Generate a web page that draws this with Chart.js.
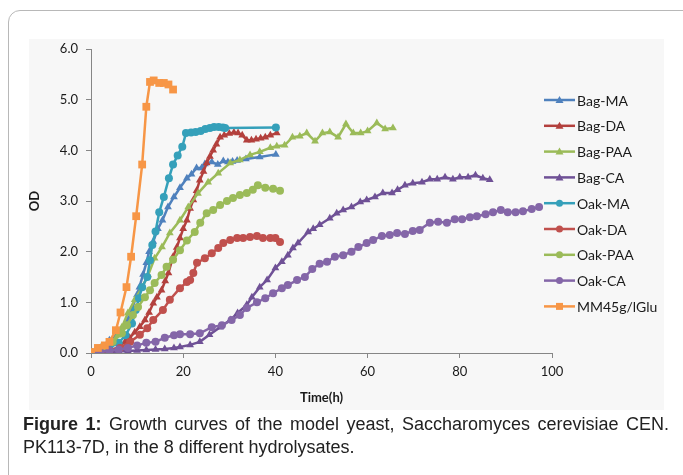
<!DOCTYPE html>
<html>
<head>
<meta charset="utf-8">
<script src="https://cdn.jsdelivr.net/npm/chart.js@4/dist/chart.umd.min.js"></script>
<style>
  body { margin: 0; background: #fff; width: 683px; height: 475px; overflow: hidden; position: relative; }
  #frame { position: absolute; left: 8px; top: 10px; width: 720px; height: 520px; border: 1px solid #b8b8b8; border-radius: 12px; }
  #panel { position: absolute; left: 29px; top: 39px; width: 635px; height: 371px; background: #f7f7f7; }
  #growth { position: absolute; left: 0; top: 0; }
  #caption { position: absolute; left: 23px; top: 413px; width: 646px; text-align: justify; font-family: "Liberation Sans", Arial, sans-serif; font-size: 18px; line-height: 23px; color: #222; }
</style>
</head>
<body>
<div id="frame"></div>
<div id="panel"></div>
<canvas id="growth" width="683" height="475"></canvas>
<div id="caption"><b>Figure 1:</b> Growth curves of the model yeast, Saccharomyces cerevisiae CEN. PK113-7D, in the 8 different hydrolysates.</div>
<script>
// sampling times (h) and OD readings per hydrolysate
var bagMaTime = [0,2,4,6,8,9,10,10.5,11.3,12,12.6,13.5,14.5,15.5,16.7,18,19.3,20.8,21.8,22.9,24,24.7,26.2,27.5,28.7,29.7,30.7,31.7,33.6,36.6,40.1];
var bagMaOd = [0.02,0.1,0.25,0.4,0.65,0.9,1.15,1.3,1.55,1.78,2.0,2.2,2.45,2.62,2.88,3.08,3.26,3.45,3.53,3.65,3.65,3.73,3.77,3.72,3.79,3.77,3.78,3.8,3.83,3.87,3.92];

var bagDaTime = [0,2,4.5,6,7.4,8.4,9.5,10.6,11.7,12.6,13.5,14.3,15.3,16.1,16.8,17.8,18.6,19.3,20,20.8,21.5,22.2,22.9,23.6,24.4,25.1,25.8,26.5,27.2,28,28.9,30,31,31.9,32.8,33.8,34.8,35.8,36.8,37.8,38.9,40.3];
var bagDaOd = [0,0.02,0.06,0.12,0.22,0.3,0.41,0.52,0.65,0.8,0.98,1.1,1.24,1.42,1.58,1.9,2.08,2.27,2.45,2.62,2.85,3.02,3.2,3.41,3.58,3.75,3.88,4.0,4.12,4.26,4.3,4.33,4.35,4.34,4.3,4.2,4.2,4.22,4.24,4.26,4.3,4.34];

var bagPaaTime = [0,2,3.5,4.7,5.8,6.7,8,9.5,11.1,12.4,13.8,15.4,17.1,19.3,21.1,23.2,25.4,27.6,30.2,32.3,34.5,36.6,38.9,40.3,42,43.7,45.3,46.8,48.6,50.2,51.8,53.6,55.3,56.9,58.5,60,62,63.8,65.5];
var bagPaaOd = [0,0.04,0.1,0.22,0.35,0.51,0.79,1.05,1.3,1.54,1.87,2.09,2.37,2.62,2.88,3.15,3.37,3.55,3.75,3.81,3.91,3.97,4.05,4.08,4.1,4.26,4.28,4.34,4.18,4.34,4.36,4.26,4.52,4.34,4.34,4.38,4.54,4.42,4.44];

var bagCaTime = [0,2,4,6,8,10,12,14,16,18,19.3,21.5,23.6,25.7,28,30.2,31.8,33.8,34.9,36.6,38.2,40,41.4,42.7,43.8,44.9,47.1,48.2,49.6,51.8,53.3,54.7,56.5,58.4,59.8,61.6,63.3,65.3,66.5,68.1,69.8,71.8,73.5,75.1,76.8,78.5,80,81.8,83.4,85,86.5];
var bagCaOd = [0,0,0.02,0.03,0.04,0.05,0.06,0.07,0.08,0.1,0.12,0.16,0.22,0.36,0.51,0.65,0.79,0.95,1.1,1.3,1.44,1.68,1.8,1.93,2.07,2.17,2.39,2.45,2.53,2.66,2.76,2.82,2.88,2.98,3.02,3.08,3.16,3.16,3.22,3.31,3.35,3.37,3.43,3.43,3.47,3.43,3.47,3.47,3.51,3.45,3.42];

var oakMaTime = [0,2,4,6,7.5,8.9,9.7,10.4,11.1,12.2,12.8,13.3,14,14.8,15.8,16.9,17.8,18.8,19.8,20.6,21.7,22.7,23.8,24.8,25.8,26.7,27.7,28.6,29.1,40.1];
var oakMaOd = [0.02,0.05,0.1,0.2,0.35,0.58,0.85,1.08,1.3,1.5,1.83,2.13,2.4,2.78,3.08,3.45,3.72,3.9,4.07,4.34,4.35,4.36,4.38,4.42,4.44,4.46,4.46,4.45,4.44,4.45];

var oakDaTime = [0,2,4,6.3,8.5,10.6,12.2,13.5,15.6,17.1,19.3,20.8,21.5,22.2,23,24.7,26.2,27.6,28.7,30.2,31.7,33,34.5,36,37.3,38.9,40,41];
var oakDaOd = [0,0.02,0.05,0.1,0.22,0.36,0.49,0.65,0.85,1.05,1.28,1.4,1.44,1.58,1.78,1.87,1.97,2.07,2.17,2.23,2.27,2.27,2.29,2.31,2.27,2.27,2.27,2.19];

var oakPaaTime = [0,2.6,4.7,6.7,7.8,9.1,10.2,11.7,12.8,13.8,15.3,16.4,17.8,19.3,20.8,22.5,23.7,25.1,26.5,28,29.5,30.8,32.3,33.8,35.1,36.2,37.8,39.5,41];
var oakPaaOd = [0,0.12,0.22,0.39,0.55,0.75,0.91,1.1,1.24,1.38,1.54,1.7,1.84,2.03,2.22,2.39,2.57,2.76,2.82,2.92,3.0,3.06,3.12,3.16,3.22,3.31,3.26,3.24,3.2];

var oakCaTime = [0,2,4,6,8,10,12,14,16,18,19.3,21.5,23.6,26.2,28.4,30.5,32.3,33.8,36,37.8,39.5,41.4,42.7,44.7,46.4,48,49.6,51.2,52.9,54.7,56.5,58,59.8,61.2,63.1,64.8,66.4,68.1,69.8,71.3,73.5,75.3,77.2,78.9,80.5,82.2,83.7,85.6,87.2,88.9,90.4,92.1,93.7,95.6,97.2];
var oakCaOd = [0,0.02,0.05,0.07,0.1,0.15,0.2,0.22,0.3,0.35,0.37,0.37,0.39,0.51,0.55,0.65,0.75,0.89,1.0,1.08,1.18,1.28,1.34,1.44,1.5,1.66,1.76,1.8,1.9,1.93,2.0,2.09,2.17,2.23,2.31,2.33,2.37,2.35,2.41,2.43,2.57,2.59,2.57,2.64,2.64,2.68,2.7,2.74,2.78,2.82,2.78,2.78,2.8,2.84,2.88];

var mmTime = [0,1.5,3,4,5.4,6.4,7.7,8.7,9.8,11.1,12,12.8,13.6,14.8,15.8,16.8,17.8];
var mmOd = [0.02,0.1,0.15,0.22,0.45,0.8,1.3,1.9,2.7,3.72,4.86,5.35,5.38,5.33,5.33,5.3,5.2];

var xTicks = [0, 20, 40, 60, 80, 100];
var yTicks = [0, 1, 2, 3, 4, 5, 6];

function pts(t, v) {
    var out = [];
    for (var i = 0; i < t.length; i++) out.push({ x: t[i], y: v[i] });
    return out;
}

function series(label, t, v, color, marker, radius) {
    return {
        label: label,
        data: pts(t, v),
        borderColor: color,
        backgroundColor: color,
        borderWidth: 2.5,
        pointStyle: marker,
        pointRadius: radius,
        pointBorderWidth: 0,
        pointBackgroundColor: color,
        tension: 0
    };
}

var datasets = [
    series('Bag-MA', bagMaTime, bagMaOd, '#4f81bd', 'triangle', 4.5),
    series('Bag-DA', bagDaTime, bagDaOd, '#b3403d', 'triangle', 4.5),
    series('Bag-PAA', bagPaaTime, bagPaaOd, '#9bbb59', 'triangle', 4.5),
    series('Bag-CA', bagCaTime, bagCaOd, '#6f5196', 'triangle', 4.5),
    series('Oak-MA', oakMaTime, oakMaOd, '#35a0ba', 'circle', 4),
    series('Oak-DA', oakDaTime, oakDaOd, '#c0504d', 'circle', 4),
    series('Oak-PAA', oakPaaTime, oakPaaOd, '#9bbb59', 'circle', 4),
    series('Oak-CA', oakCaTime, oakCaOd, '#8466a8', 'circle', 4),
    series('MM45g/lGlu', mmTime, mmOd, '#f79646', 'rect', 5.5)
];
// later series on top, like the spreadsheet
datasets.forEach(function (d, i) { d.order = -i; });

// legend: line with marker, one row per series
var sideLegend = {
    id: 'sideLegend',
    afterDraw: function (chart) {
        var ctx = chart.ctx;
        chart.data.datasets.forEach(function (d, i) {
            var y = 100 + 25.8 * i;
            ctx.save();
            ctx.strokeStyle = d.borderColor;
            ctx.lineWidth = 2.5;
            ctx.beginPath();
            ctx.moveTo(544, y);
            ctx.lineTo(575, y);
            ctx.stroke();
            ctx.fillStyle = d.borderColor;
            ctx.beginPath();
            if (d.pointStyle === 'triangle') {
                ctx.moveTo(559.5, y - 4);
                ctx.lineTo(563.5, y + 3);
                ctx.lineTo(555.5, y + 3);
                ctx.closePath();
            } else if (d.pointStyle === 'rect') {
                ctx.rect(556, y - 3.5, 7, 7);
            } else {
                ctx.arc(559.5, y, 3.5, 0, Math.PI * 2);
            }
            ctx.fill();
            ctx.fillStyle = '#1a1a1a';
            ctx.font = '14px Lato';
            ctx.textBaseline = 'middle';
            ctx.fillText(d.label, 577, y + 1);
            ctx.restore();
        });
    }
};

var axisColor = '#868686';

new Chart(document.getElementById('growth'), {
    type: 'line',
    data: { datasets: datasets },
    options: {
        responsive: false,
        animation: false,
        events: [],
        layout: { padding: { left: 0, top: 49, right: 131, bottom: 62 } },
        plugins: { legend: { display: false }, tooltip: { enabled: false } },
        scales: {
            x: {
                type: 'linear',
                min: 0,
                max: 100,
                afterFit: function (scale) { scale.height = 60; },
                afterBuildTicks: function (scale) {
                    scale.ticks = xTicks.map(function (v) { return { value: v }; });
                },
                ticks: { color: '#1a1a1a', font: { family: 'Lato', size: 13 }, padding: 6, maxRotation: 0 },
                grid: { drawOnChartArea: false, drawTicks: true, tickLength: 5, color: axisColor },
                border: { color: axisColor, width: 1 },
                title: { display: true, text: 'Time(h)', color: '#1a1a1a', font: { family: 'Lato', size: 13, weight: 'bold' }, padding: { top: 0, bottom: 7 } }
            },
            y: {
                min: 0,
                max: 6,
                afterFit: function (scale) { scale.width = 91; },
                afterBuildTicks: function (scale) {
                    scale.ticks = yTicks.map(function (v) { return { value: v }; });
                },
                ticks: {
                    color: '#1a1a1a',
                    font: { family: 'Lato', size: 13 },
                    padding: 8,
                    callback: function (v) { return Number(v).toFixed(1); }
                },
                grid: { drawOnChartArea: false, drawTicks: true, tickLength: 5, color: axisColor },
                border: { color: axisColor, width: 1 },
                title: { display: true, text: 'OD', color: '#1a1a1a', font: { family: 'Lato', size: 13, weight: 'bold' }, padding: { top: 27, bottom: 0 } }
            }
        }
    },
    plugins: [sideLegend]
});
</script>
</body>
</html>
